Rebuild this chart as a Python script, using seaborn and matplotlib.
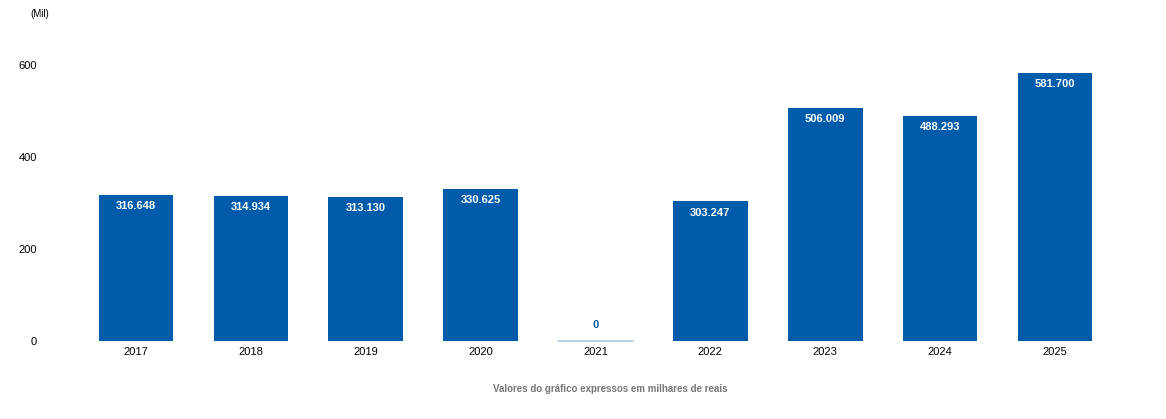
import pandas as pd
import matplotlib.pyplot as plt
import seaborn as sns

# ── Data (milhares de reais) ───────────────────────────────────────────────────
anos = ["2017", "2018", "2019", "2020", "2021", "2022", "2023", "2024", "2025"]
valores = [316648, 314934, 313130, 330625, 0, 303247, 506009, 488293, 581700]

BLUE = "#005BAA"
LIGHT = "#a9cbe8"

sns.set_theme(style="white")
plt.rcParams["font.family"] = ["Liberation Sans", "DejaVu Sans"]

df = pd.DataFrame({"ano": anos, "mil": [v / 1000 for v in valores]})

fig = plt.figure(figsize=(11.66, 4.19), dpi=100)
ax = fig.add_axes([0.0674, 0.186, 0.8866, 0.714])

sns.barplot(data=df, x="ano", y="mil", color=BLUE, saturation=1,
            width=0.65, edgecolor="none", ax=ax)
xlim = ax.get_xlim()

# value labels
for patch, val in zip(ax.patches, valores):
    label = f"{val:,}".replace(",", ".")
    xc = patch.get_x() + patch.get_width() / 2
    h = patch.get_height()
    if val == 0:
        # zero bar shown as a thin light line on the baseline
        ax.plot([patch.get_x(), patch.get_x() + patch.get_width()], [0, 0],
                color=LIGHT, linewidth=1.2, clip_on=False,
                scalex=False, scaley=False)
        ax.annotate(label, (xc, 0), xytext=(0, 8), textcoords="offset points",
                    ha="center", va="bottom", fontsize=8, fontweight="bold",
                    color=BLUE)
    else:
        ax.annotate(label, (xc, h), xytext=(0, -8), textcoords="offset points",
                    ha="center", va="center", fontsize=8, fontweight="bold",
                    color="white")

ax.set_xlim(xlim)
ax.set_ylim(0, 650)
ax.set_yticks([0, 200, 400, 600])
ax.set_xlabel("")
ax.set_ylabel("")
ax.tick_params(axis="y", labelsize=8, pad=30, length=0, labelcolor="black")
ax.tick_params(axis="x", labelsize=8, pad=4, length=0, labelcolor="black")
for lbl in ax.get_yticklabels():
    lbl.set_ha("right")
sns.despine(ax=ax, left=True, bottom=True)

fig.text(30 / 1166, 1 - 14 / 419, "(Mil)", fontsize=7, ha="left", va="center",
         color="black")
fig.text(610 / 1166, 1 - 389 / 419, "Valores do gráfico expressos em milhares de reais",
         fontsize=7, fontweight="bold", color="#777777", ha="center", va="center")

fig.savefig("out.png", dpi=100)
